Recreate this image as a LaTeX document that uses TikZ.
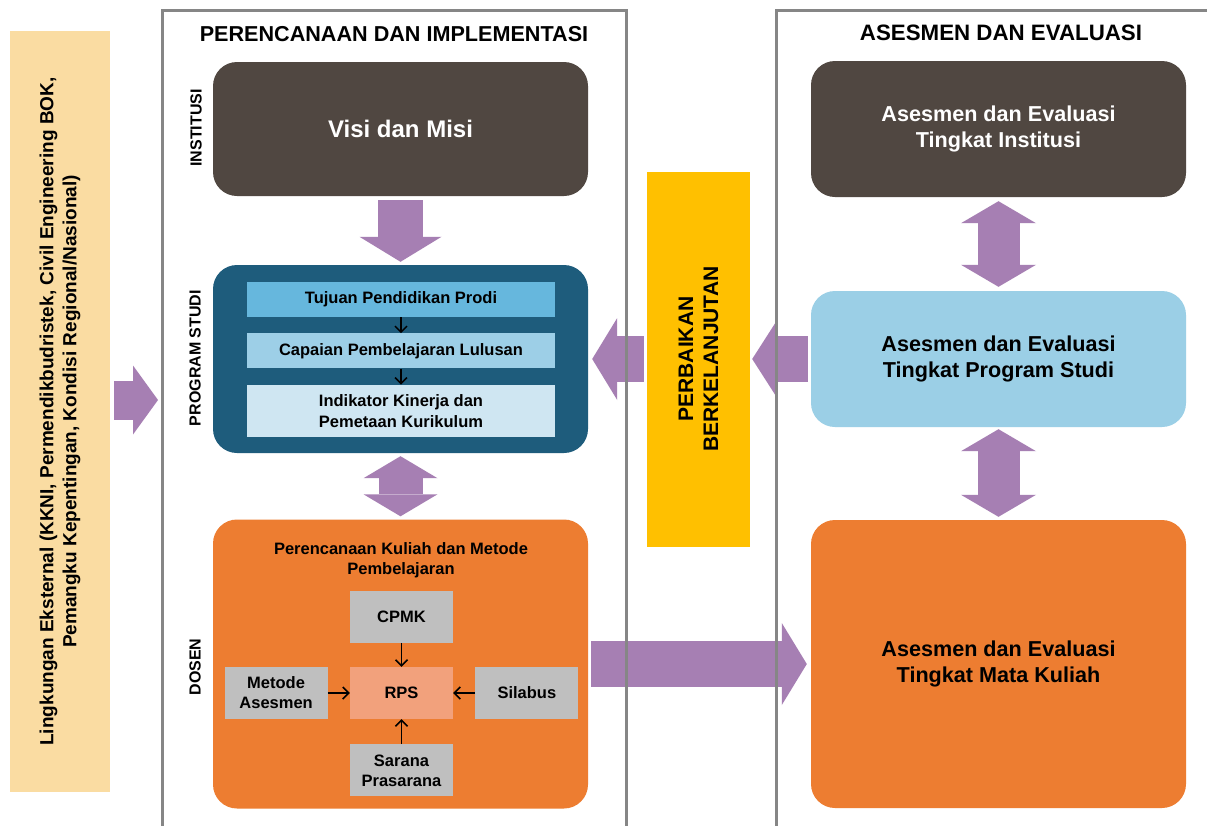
\documentclass[tikz,border=0pt]{standalone}
\usepackage{fontspec}
\setmainfont{Liberation Sans}
\usetikzlibrary{arrows.meta,positioning}
\definecolor{umber}{RGB}{80,71,65}
\definecolor{navyprodi}{RGB}{30,92,124}
\definecolor{skyA}{RGB}{102,183,221}
\definecolor{skyB}{RGB}{157,207,231}
\definecolor{skyC}{RGB}{207,230,242}
\definecolor{skyAE}{RGB}{155,207,230}
\definecolor{tangerine}{RGB}{237,125,49}
\definecolor{salmon}{RGB}{242,161,124}
\definecolor{silver}{RGB}{191,191,191}
\definecolor{lilac}{RGB}{166,127,179}
\definecolor{amber}{RGB}{255,192,0}
\definecolor{peach}{RGB}{250,220,162}
\definecolor{framegray}{RGB}{134,134,134}

\begin{document}
\begin{tikzpicture}[
      x=1pt,y=-1pt,
      big/.style={rounded corners=24pt,minimum width=375pt,
        inner sep=0pt,align=center},
      bigtxt/.style={font=\fontsize{21.6}{26}\selectfont\bfseries},
      strip/.style={minimum width=308pt,inner sep=0pt,align=center,
        font=\fontsize{16.5}{21}\selectfont\bfseries},
      tile/.style={minimum width=103pt,minimum height=52pt,
        inner sep=0pt,align=center,
        font=\fontsize{16.5}{20}\selectfont\bfseries},
      side/.style={rotate=90,font=\fontsize{16}{19}\selectfont\bfseries},
      link/.style={-{Straight Barb[length=6pt,width=12pt]},
        line width=1.5pt},
      fat/.style={color=lilac,line width=#1},
      onehead/.style={-{Triangle[length=25pt,width=#1,line width=0pt]}},
      twohead/.style={{Triangle[length=22pt,width=#1,line width=0pt]}-%
        {Triangle[length=22pt,width=#1,line width=0pt]}},
      panel/.style={draw=framegray,line width=3pt}
    ]
      \useasboundingbox (0,0) rectangle (1207,825);
      \fill[white] (0,0) rectangle (1207,825);
      \clip (0,0) rectangle (1207,825);

      % external environment
      \node[fill=peach,minimum width=100pt,minimum height=761pt,
        inner sep=0pt] (lingkungan) at (60,411.5) {};
      \node[rotate=90,align=center,
        font=\fontsize{19}{23}\selectfont\bfseries] (lingtext)
        at (lingkungan.center)
        {Lingkungan Eksternal (KKNI, Permendikbudristek, Civil Engineering BOK,\\
         Pemangku Kepentingan, Kondisi Regional/Nasional)};
      \coordinate (inlet) at (158,400);

      % planning and implementation
      \node[bigtxt] (plantitle) at (394,34) {PERENCANAAN DAN IMPLEMENTASI};
      \node[big,fill=umber,text=white,minimum height=134pt,
        font=\fontsize{24}{28}\selectfont\bfseries] (visi)
        at (400.5,129) {Visi dan Misi};
      \node[big,fill=navyprodi,minimum height=188pt] (prodi)
        at (400.5,359) {};
      \node[big,fill=tangerine,minimum height=289pt] (dosen)
        at (400.5,664) {};

      \node[strip,fill=skyA,minimum height=35pt] (tujuan)
        at (401,299.5) {Tujuan Pendidikan Prodi};
      \node[strip,fill=skyB,minimum height=35pt,below=16pt of tujuan]
        (capaian) {Capaian Pembelajaran Lulusan};
      \node[strip,fill=skyC,minimum height=52pt,below=16pt of capaian]
        (indikator) {Indikator Kinerja dan\\Pemetaan Kurikulum};

      \node[align=center,font=\fontsize{16.5}{20}\selectfont\bfseries]
        (dosentitle) at (401,560)
        {Perencanaan Kuliah dan Metode\\Pembelajaran};
      \node[tile,fill=salmon] (rps) at (401.5,693) {RPS};
      \node[tile,fill=silver,above=24pt of rps] (cpmk) {CPMK};
      \node[tile,fill=silver,left=22pt of rps] (metode) {Metode\\Asesmen};
      \node[tile,fill=silver,right=22pt of rps] (silabus) {Silabus};
      \node[tile,fill=silver,below=25pt of rps] (sarana) {Sarana\\Prasarana};

      \node[side] (lblinst) at (196,128) {INSTITUSI};
      \node[side] (lblprodi) at (195,358) {PROGRAM STUDI};
      \node[side] (lbldosen) at (195,667) {DOSEN};

      % continuous improvement
      \node[fill=amber,minimum width=103pt,minimum height=375pt,
        inner sep=0pt] (perbaikan) at (698.5,359) {};
      \node[rotate=90,align=center,
        font=\fontsize{21}{25}\selectfont\bfseries] (perbtext)
        at (perbaikan.center) {PERBAIKAN\\BERKELANJUTAN};

      % assessment and evaluation
      \node[bigtxt,font=\fontsize{22.3}{26}\selectfont\bfseries]
        (evaltitle) at (1001,33) {ASESMEN DAN EVALUASI};
      \node[big,bigtxt,fill=umber,text=white,minimum height=136pt]
        (aeinst) at (998.5,129) {Asesmen dan Evaluasi\\Tingkat Institusi};
      \node[big,bigtxt,fill=skyAE,minimum height=136pt]
        (aeprodi) at (998.5,359) {Asesmen dan Evaluasi\\Tingkat Program Studi};
      \node[big,bigtxt,fill=tangerine,minimum height=288pt]
        (aemk) at (998.5,664) {Asesmen dan Evaluasi\\Tingkat Mata Kuliah};

      % small links
      \draw[link] (tujuan) -- (capaian);
      \draw[link] (capaian) -- (indikator);
      \draw[link] (cpmk) -- (rps);
      \draw[link] (metode) -- (rps);
      \draw[link] (silabus) -- (rps);
      \draw[link] (sarana) -- (rps);

      % block arrows
      \draw[fat=39pt,onehead=69pt,shorten <=4pt]
        (lingkungan.east |- inlet) -- (inlet);
      \draw[fat=45pt,onehead=82pt,shorten <=4pt,shorten >=3pt]
        (visi) -- (prodi);
      \draw[fat=44pt,twohead=74pt,shorten <=3pt,shorten >=3pt]
        (prodi) -- (dosen);
      \draw[fat=46pt,onehead=82pt,shorten <=3pt,shorten >=4pt]
        (perbaikan.west) -- (prodi.east);
      \draw[fat=46pt,onehead=78pt,shorten <=3pt,shorten >=2pt]
        (aeprodi.west) -- (perbaikan.east);
      \draw[fat=46pt,onehead=82pt,shorten <=3pt,shorten >=4pt]
        (dosen.east) -- (aemk.west);
      \draw[fat=42pt,twohead=75pt,shorten <=4pt,shorten >=4pt]
        (aeinst) -- (aeprodi);
      \draw[fat=42pt,twohead=75pt,shorten <=2pt,shorten >=3pt]
        (aeprodi) -- (aemk);

      % panel frames
      \draw[panel] (162,10) rectangle (626,845);
      \draw[panel] (776,10) rectangle (1230,845);
    \end{tikzpicture}
\end{document}
